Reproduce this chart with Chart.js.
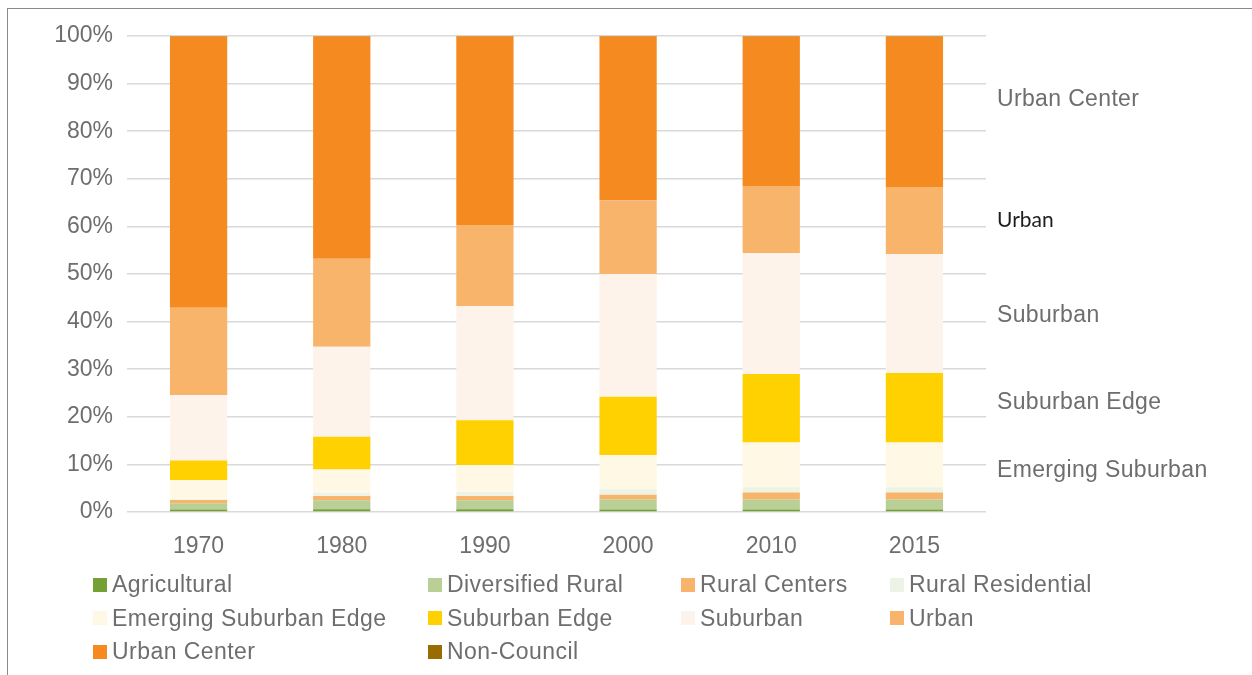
<!DOCTYPE html>
<html>
<head>
<meta charset="utf-8">
<script src="https://cdn.jsdelivr.net/npm/chart.js@4/dist/chart.umd.min.js"></script>
<style>
  body { margin: 0; background: #fff; }
  #wrap { position: relative; width: 1252px; height: 675px; overflow: hidden; }
  #frame { position: absolute; left: 7px; top: 8px; right: -2px; bottom: -2px;
           border-left: 1.5px solid #8a8a8a; border-top: 1.5px solid #8a8a8a; }
  #myChart { position: absolute; left: 0; top: 0; }
  #legend { position: absolute; left: 93px; top: 568px;
            display: grid; grid-template-columns: 335px 253px 209px 300px;
            grid-auto-rows: 33.5px; letter-spacing: 0.45px;
            font-family: "Liberation Sans", Arial, sans-serif; font-size: 23px; color: #6e6e6e; }
  #legend div { display: flex; align-items: center; white-space: nowrap; }
  #legend span.box { display: inline-block; width: 14px; height: 14px; margin-right: 5px; }
</style>
</head>
<body>
<div id="wrap">
  <div id="frame"></div>
  <canvas id="myChart" width="1252" height="675"></canvas>
  <div id="legend"></div>
</div>
<script>
const years = ['1970', '1980', '1990', '2000', '2010', '2015'];

// share of each category, percent
const agricultural      = [0.55, 0.6, 0.6, 0.5, 0.5, 0.5];
const diversifiedRural  = [1.3, 1.85, 1.85, 2.1, 2.15, 2.15];
const ruralCenters      = [0.65, 0.9, 0.9, 1.0, 1.45, 1.45];
const ruralResidential  = [0.1, 0.7, 0.85, 1.2, 1.1, 1.1];
const emergingSubEdge   = [4.1, 4.9, 5.65, 7.2, 9.4, 9.4];
const suburbanEdge      = [4.1, 6.85, 9.45, 12.2, 14.4, 14.6];
const suburban          = [13.8, 18.9, 24.0, 25.8, 25.4, 25.0];
const urban             = [18.3, 18.5, 17.0, 15.5, 14.1, 14.1];
const urbanCenter       = [57.0, 46.7, 39.6, 34.4, 31.4, 31.6];
const nonCouncil        = [0.1, 0.1, 0.1, 0.1, 0.1, 0.1];

const yTicks = [0, 10, 20, 30, 40, 50, 60, 70, 80, 90, 100];

// side labels on the right of the plot
const sideLabels = ['Urban Center', 'Urban', 'Suburban', 'Suburban Edge', 'Emerging Suburban'];
const sideLabelAt = [86.6, 61.3, 41.2, 22.9, 8.6];

const gray = '#6e6e6e';
const font = '"Liberation Sans", Arial';

const sideLabelPlugin = {
  id: 'sideLabels',
  afterDraw(chart) {
    const c = chart.ctx;
    const y = chart.scales.y;
    const x0 = chart.chartArea.right + 11;
    c.save();
    c.textBaseline = 'middle';
    c.textAlign = 'left';
    sideLabels.forEach((t, i) => {
      if (t === 'Urban') {
        c.font = '21px Lato, "Open Sans", sans-serif';
        c.fillStyle = '#1e1e1e';
        c.letterSpacing = '0px';
      } else {
        c.font = '23px ' + font + ', sans-serif';
        c.fillStyle = gray;
        c.letterSpacing = '0.35px';
      }
      c.fillText(t, x0, y.getPixelForValue(sideLabelAt[i]));
    });
    c.restore();
  }
};

const ctx = document.getElementById('myChart');

const grafica = new Chart(ctx, {
  type: 'bar',
  data: {
    labels: years,
    datasets: [
      { label: 'Agricultural', data: agricultural, backgroundColor: '#75A134' },
      { label: 'Diversified Rural', data: diversifiedRural, backgroundColor: '#B9CF96' },
      { label: 'Rural Centers', data: ruralCenters, backgroundColor: '#F9B46B' },
      { label: 'Rural Residential', data: ruralResidential, backgroundColor: '#EEF4E5' },
      { label: 'Emerging Suburban Edge', data: emergingSubEdge, backgroundColor: '#FEF8E5' },
      { label: 'Suburban Edge', data: suburbanEdge, backgroundColor: '#FFD100' },
      { label: 'Suburban', data: suburban, backgroundColor: '#FDF3EA' },
      { label: 'Urban', data: urban, backgroundColor: '#F9B46B' },
      { label: 'Urban Center', data: urbanCenter, backgroundColor: '#F58B20' },
      { label: 'Non-Council', data: nonCouncil, backgroundColor: '#9A6B00' }
    ]
  },
  options: {
    responsive: false,
    animation: false,
    layout: { padding: { left: 0, right: 266, top: 36, bottom: 112 } },
    datasets: { bar: { categoryPercentage: 1, barPercentage: 0.4, borderWidth: 0 } },
    plugins: { legend: { display: false }, tooltip: { enabled: false } },
    scales: {
      x: {
        stacked: true,
        grid: { display: false },
        border: { display: false },
        ticks: { color: gray, padding: 13, font: { family: font, size: 23 } },
        afterFit: s => { s.height = 51; }
      },
      y: {
        stacked: true,
        min: 0,
        max: 100,
        border: { display: false },
        grid: { color: '#d9d9d9', lineWidth: 1.5, drawTicks: false },
        ticks: {
          stepSize: 5,
          padding: 14,
          color: gray,
          font: { family: font, size: 23 },
          callback: v => yTicks.includes(v) ? v + '%' : ''
        },
        afterFit: s => { s.width = 127; }
      }
    }
  },
  plugins: [sideLabelPlugin]
});

// legend in four columns, like the original
const legend = document.querySelector('#legend');
grafica.data.datasets.forEach(d => {
  const item = document.createElement('div');
  item.innerHTML = '<span class="box" style="background:' + d.backgroundColor + '"></span>' + d.label;
  legend.appendChild(item);
});
</script>
</body>
</html>
